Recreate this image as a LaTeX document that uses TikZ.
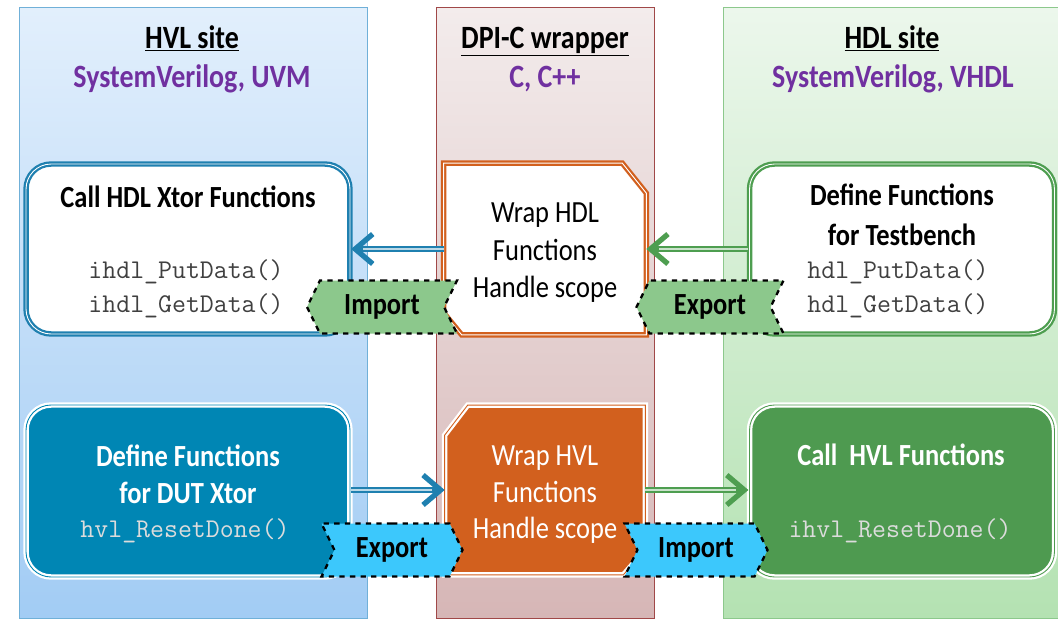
\documentclass[tikz,border=0pt]{standalone}
\usepackage{fontspec}
\setmainfont{Carlito}[FakeStretch=0.86]
\usetikzlibrary{shapes.symbols, arrows.meta, positioning}

\definecolor{hvlblue}{HTML}{1F80B0}
\definecolor{dutblue}{HTML}{0086B4}
\definecolor{hdlgreen}{HTML}{4E9E50}
\definecolor{callgreen}{HTML}{4E9A50}
\definecolor{wraporange}{HTML}{D2601E}
\definecolor{langpurple}{HTML}{7030A0}
\definecolor{tagcyan}{HTML}{3CC8FC}
\definecolor{taggreen}{HTML}{8CC88C}
\definecolor{codegray}{HTML}{404040}
\definecolor{codelight}{HTML}{DCDCDC}
\definecolor{hvltop}{HTML}{E2EFFC}
\definecolor{hvlbottom}{HTML}{A2CCF4}
\definecolor{hvlline}{HTML}{70B0D8}
\definecolor{dpitop}{HTML}{F3ECEC}
\definecolor{dpibottom}{HTML}{D6B6B6}
\definecolor{dpiline}{HTML}{A04848}
\definecolor{hdltop}{HTML}{ECF7EC}
\definecolor{hdlbottom}{HTML}{B4E2B2}
\definecolor{hdlline}{HTML}{8CC88C}

\tikzset{
    sitetitle/.style = {anchor=base, font=\fontsize{18.5}{22}\selectfont\bfseries},
    sitelang/.style = {anchor=base, text=langpurple, font=\fontsize{18.5}{22}\selectfont\bfseries},
    funcbox/.style = {rectangle, rounded corners=0.5cm, minimum width=6.48cm, minimum height=3.4cm, line width=1.3pt, double distance=0.5pt},
    wrapbox/.style = {rectangle, minimum width=4.04cm, minimum height=3.42cm, inner sep=0pt},
    wrapline/.style = {line width=1.3pt, double distance=0.5pt, line join=miter},
    boxtitle/.style = {anchor=base, font=\fontsize{17.5}{22}\selectfont\bfseries},
    wraptext/.style = {anchor=base, font=\fontsize{17.5}{22}\selectfont},
    code/.style = {anchor=base, font=\fontsize{15.4}{18}\selectfont\ttfamily},
    tag/.style = {signal, draw=black, dashed, line width=1.3pt, minimum width=3.0cm, minimum height=1.06cm, signal pointer angle=128, inner sep=0pt, font=\fontsize{17.5}{20}\selectfont\bfseries},
    link/.style = {draw=#1, line width=3pt, -{Straight Barb[length=10pt, width=17pt]}, postaction={draw=#1!30, line width=0.9pt, -, shorten >=7pt}}
}

\begin{document}
\begin{tikzpicture}[x=0.02cm, y=-0.02cm]
\useasboundingbox (0,0) rectangle (1058,619);

% site columns
\shade[top color=hvltop, bottom color=hvlbottom] (19,7) rectangle (367,618);
\draw[draw=hvlline] (19,7) rectangle (367,618);
\shade[top color=dpitop, bottom color=dpibottom] (436,7) rectangle (654,618);
\draw[draw=dpiline] (436,7) rectangle (654,618);
\shade[top color=hdltop, bottom color=hdlbottom] (723,7) rectangle (1075,618);
\draw[draw=hdlline] (723,7) rectangle (1075,618);

\node[sitetitle] (hvltitle) at (192,48) {\underline{HVL site}};
\node[sitelang] (hvllang) at (192,87) {SystemVerilog, UVM};
\node[sitetitle] (dpititle) at (545,48) {\underline{DPI-C wrapper}};
\node[sitelang] (dpilang) at (545,87) {C, C++};
\node[sitetitle] (hdltitle) at (892,48) {\underline{HDL site}};
\node[sitelang] (hdllang) at (893,87) {SystemVerilog, VHDL};

% function boxes
\node[funcbox, draw=hvlblue, double=white, fill=white] (callhdl) at (188,249) {};
\node[boxtitle] (callhdltxt) at (188,207) {Call HDL Xtor Functions};
\node[code, text=codegray] (iput) at (186,278) {ihdl\_PutData()};
\node[code, text=codegray] (iget) at (186,312) {ihdl\_GetData()};

\node[wrapbox] (wraphdl) at (545,249) {};
\draw[wrapline, draw=wraporange, double=white, fill=white] (wraphdl.north west) -- ([xshift=-0.48cm]wraphdl.north east) -- ([yshift=-0.6cm]wraphdl.north east) -- (wraphdl.south east) -- ([xshift=0.36cm]wraphdl.south west) -- ([yshift=0.44cm]wraphdl.south west) -- cycle;
\node[wraptext] (wraphdl1) at (545,222) {Wrap HDL};
\node[wraptext] (wraphdl2) at (545,260) {Functions};
\node[wraptext] (wraphdl3) at (545,297) {Handle scope};

\node[funcbox, minimum width=6.1cm, draw=hdlgreen, double=white, fill=white] (deftb) at (902,249) {};
\node[boxtitle] (deftb1) at (902,205) {Define Functions};
\node[boxtitle] (deftb2) at (902,245) {for Testbench};
\node[code, text=codegray] (put) at (898,278) {hdl\_PutData()};
\node[code, text=codegray] (get) at (898,312) {hdl\_GetData()};

\node[funcbox, minimum height=3.44cm, draw=white, double=dutblue, fill=dutblue] (defdut) at (188,491) {};
\node[boxtitle, text=white] (defdut1) at (188,466) {Define Functions};
\node[boxtitle, text=white] (defdut2) at (188,503) {for DUT Xtor};
\node[code, text=codelight] (reset) at (185,537) {hvl\_ResetDone()};

\node[wrapbox, minimum width=4.0cm, minimum height=3.38cm] (wraphvl) at (545,490) {};
\draw[wrapline, draw=white, double=wraporange, fill=wraporange] ([xshift=0.46cm]wraphvl.north west) -- (wraphvl.north east) -- ([yshift=0.5cm]wraphvl.south east) -- ([xshift=-0.44cm]wraphvl.south east) -- (wraphvl.south west) -- ([yshift=-0.6cm]wraphvl.north west) -- cycle;
\node[wraptext, text=white] (wraphvl1) at (545,465) {Wrap HVL};
\node[wraptext, text=white] (wraphvl2) at (545,502) {Functions};
\node[wraptext, text=white] (wraphvl3) at (545,538) {Handle scope};

\node[funcbox, minimum width=6.1cm, minimum height=3.44cm, draw=white, double=callgreen, fill=callgreen] (callhvl) at (902,491) {};
\node[boxtitle, text=white] (callhvltxt) at (901,465) {Call\ \ HVL Functions};
\node[code, text=codelight] (ireset) at (900,537) {ihvl\_ResetDone()};

% calls across the wrapper
\draw[link=hvlblue] (wraphdl.west) -- (callhdl.east);
\draw[link=hdlgreen] (deftb.west) -- (wraphdl.east);
\draw[link=hvlblue] (defdut.east |- wraphvl.west) -- (wraphvl.west);
\draw[link=hdlgreen] (wraphvl.east) -- (callhvl.west |- wraphvl.east);

% import / export tags
\node[tag, signal to=west, signal from=east, fill=taggreen] (importhdl) at (382,307) {Import};
\node[tag, signal to=west, signal from=east, minimum width=2.94cm, fill=taggreen] (exporthdl) at (710,307) {Export};
\node[tag, signal to=east, signal from=west, minimum width=2.82cm, fill=tagcyan] (exporthvl) at (392,550) {Export};
\node[tag, signal to=east, signal from=west, minimum width=2.86cm, fill=tagcyan] (importhvl) at (696,550) {Import};

\end{tikzpicture}
\end{document}
